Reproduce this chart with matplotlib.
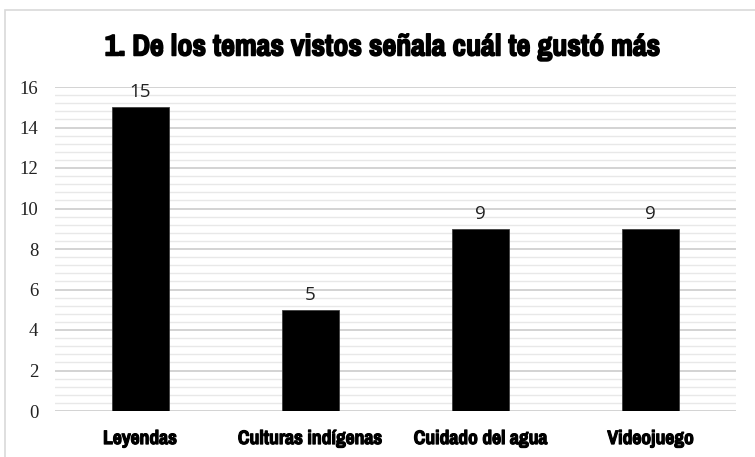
import os
import matplotlib
matplotlib.use("Agg")
import matplotlib.pyplot as plt
import matplotlib.patheffects as pe
from matplotlib import font_manager, ft2font
from matplotlib.font_manager import FontProperties
from matplotlib.patches import Rectangle
from matplotlib.ticker import MultipleLocator

# Respuestas de la pregunta 1
temas = ["Leyendas", "Culturas indígenas", "Cuidado del agua", "Videojuego"]
votos = [15, 5, 9, 9]

titulo = "1. De los temas vistos señala cuál te gustó más"


def es_monoespaciada(ruta):
    try:
        flags = ft2font.FT2Font(ruta).face_flags
        return ft2font.FaceFlags.FIXED_WIDTH in flags
    except Exception:
        return "Mono" in ruta


def fuente_condensada():
    # busca una fuente estrecha y gruesa instalada (sin serifa ni monoespacio)
    orden = ["ExtraCondensedBlack", "ExtraCondensedExtraBold", "CondensedBlack",
             "ExtraCondensedBold", "CondensedExtraBold", "CondensedBold",
             "NarrowBold", "Narrow-Bold", "Condensed-Bold"]
    archivos = sorted({f.fname for f in font_manager.fontManager.ttflist})
    for clave in orden:
        for a in archivos:
            base = os.path.basename(a).replace(" ", "")
            if clave not in base or "Italic" in base or "Serif" in base \
                    or "Mono" in base or "Oblique" in base:
                continue
            if es_monoespaciada(a):
                continue
            return a
    return None


ruta = fuente_condensada()
if ruta:
    fp_titulo = FontProperties(fname=ruta, size=23.5)
    fp_cat = FontProperties(fname=ruta, size=15.3)
else:
    fp_titulo = FontProperties(family="DejaVu Sans", weight="bold", size=16)
    fp_cat = FontProperties(family="DejaVu Sans", weight="bold", size=10.5)

# trazo extra para engrosar las letras
grueso = [pe.withStroke(linewidth=1.1, foreground="black")]

fig = plt.figure(figsize=(7.55, 4.57), dpi=100)
ax = fig.add_axes([55 / 755, 1 - 411 / 457, 681 / 755, (411 - 87) / 457])

# marco gris alrededor del grafico
fig.patches.append(Rectangle((5 / 755, -0.05), 1.0, 1 - 10 / 457 + 0.05,
                             transform=fig.transFigure, fill=False,
                             edgecolor="#d9d9d9", linewidth=1.2))

x = range(len(temas))
barras = ax.bar(x, votos, width=0.335, color="black", edgecolor="#404040",
                linewidth=0.6, zorder=3)
for b, v in zip(barras, votos):
    ax.text(b.get_x() + b.get_width() / 2, v + 0.3, str(v), ha="center",
            va="bottom", fontsize=13.5, family="Open Sans", color="#222222")

ax.set_xlim(-0.5, 3.5)
ax.set_ylim(0, 16)
ax.yaxis.set_major_locator(MultipleLocator(2))
ax.yaxis.set_minor_locator(MultipleLocator(0.4))
ax.grid(which="major", axis="y", color="#d0d0d0", linewidth=1.3, zorder=0)
ax.grid(which="minor", axis="y", color="#e8e8e8", linewidth=1.0, zorder=0)

for s in ax.spines.values():
    s.set_visible(False)
ax.tick_params(axis="both", which="both", length=0)
ax.tick_params(axis="y", labelsize=13.5, pad=12)
for t in ax.get_yticklabels():
    t.set_family("Liberation Serif")
    t.set_color("#222222")

ax.set_xticks(list(x))
ax.set_xticklabels(temas, fontproperties=fp_cat, color="black")
for t in ax.get_xticklabels():
    t.set_path_effects([pe.withStroke(linewidth=0.8, foreground="black")])
ax.tick_params(axis="x", pad=13)

fig.text(383 / 755, 1 - 47 / 457, titulo, ha="center", va="center",
         fontproperties=fp_titulo, color="black", path_effects=grueso)

fig.savefig("out.png", dpi=100)
